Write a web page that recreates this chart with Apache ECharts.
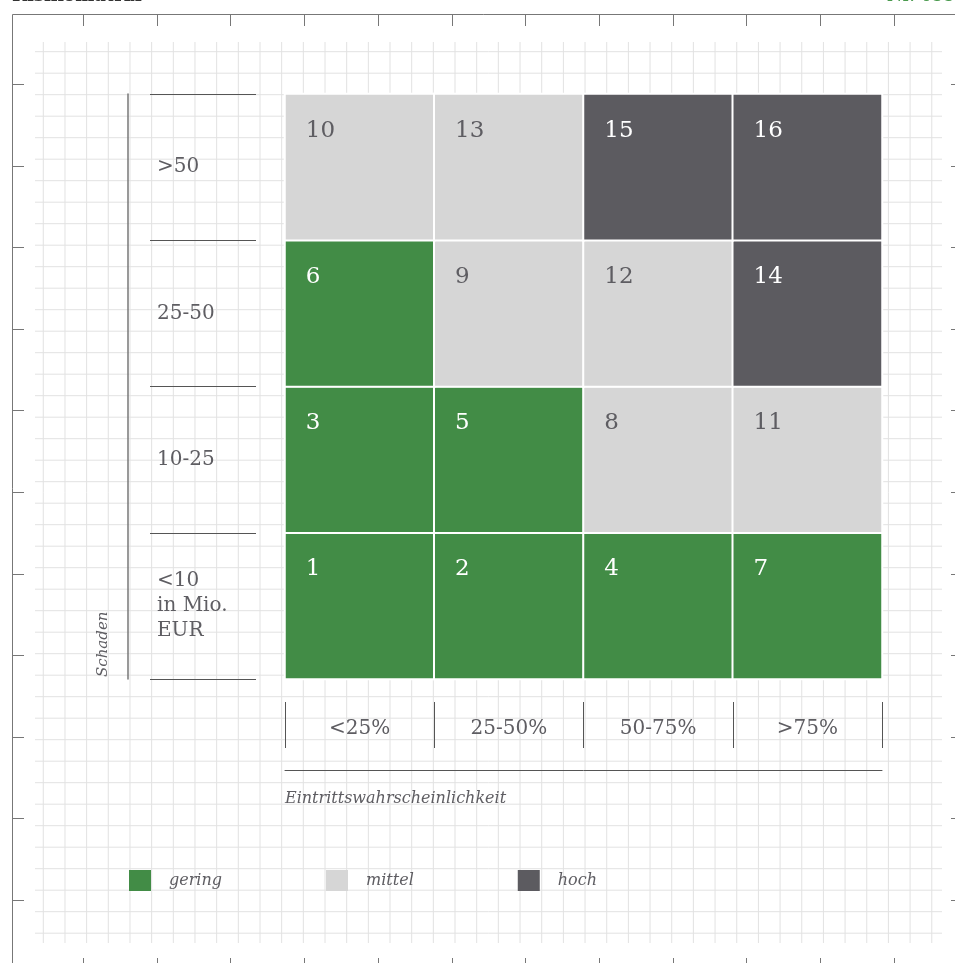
<!DOCTYPE html>
<html>
<head>
<meta charset="utf-8">
<script src="https://cdn.jsdelivr.net/npm/echarts@6/dist/echarts.min.js"></script>
<style>
html, body { margin: 0; padding: 0; background: #fff; }
#chart { width: 955px; height: 963px; }
</style>
</head>
<body>
<div id="chart"></div>
<script>
const probLabels = ['<25%', '25-50%', '50-75%', '>75%'];
const damageLabels = ['<10\nin Mio.\nEUR', '10-25', '25-50', '>50'];
// Zeilen von unten (<10) nach oben (>50)
const cellNumbers = [
  [1, 2, 4, 7],
  [3, 5, 8, 11],
  [6, 9, 12, 14],
  [10, 13, 15, 16]
];
// 0 = gering, 1 = mittel, 2 = hoch
const riskLevels = [
  [0, 0, 0, 0],
  [0, 0, 1, 1],
  [0, 1, 1, 2],
  [1, 1, 2, 2]
];
const levelNames = ['gering', 'mittel', 'hoch'];
const levelColors = ['#428c46', '#d6d6d6', '#5c5b60'];
const xTitle = 'Eintrittswahrscheinlichkeit';
const yTitle = 'Schaden';

const textColor = '#5e5d62';
const serif = 'DejaVu Serif';

const cells = [];
riskLevels.forEach((row, y) => {
  row.forEach((level, x) => {
    cells.push({
      value: [x, y, level, cellNumbers[y][x]],
      label: { color: level === 1 ? textColor : '#fff' }
    });
  });
});

// kariertes Papier + Rahmen mit Strichen
const deco = [];
const gridLine = { stroke: '#e2e2e2', lineWidth: 1 };
for (let i = 0; i <= 41; i++) {
  const x = 43.3 + i * 21.67;
  deco.push({ type: 'line', z: -10, silent: true, shape: { x1: x, y1: 42, x2: x, y2: 943 }, style: gridLine });
  const y = 51.7 + i * 21.5;
  deco.push({ type: 'line', z: -10, silent: true, shape: { x1: 35, y1: y, x2: 942, y2: y }, style: gridLine });
}
const frame = { stroke: '#777', lineWidth: 1 };
deco.push({ type: 'polyline', silent: true, shape: { points: [[12.5, 963], [12.5, 14.5], [955, 14.5]] }, style: { stroke: '#777', lineWidth: 1, fill: null } });
for (let i = 0; i < 12; i++) {
  const x = Math.round(83 + i * 73.7) + 0.5;
  deco.push({ type: 'line', silent: true, shape: { x1: x, y1: 14, x2: x, y2: 26 }, style: frame });
  deco.push({ type: 'line', silent: true, shape: { x1: x, y1: 958, x2: x, y2: 963 }, style: frame });
}
for (let i = 0; i < 11; i++) {
  const y = Math.round(84 + i * 81.6) + 0.5;
  deco.push({ type: 'line', silent: true, shape: { x1: 12, y1: y, x2: 24, y2: y }, style: frame });
  deco.push({ type: 'line', silent: true, shape: { x1: 951, y1: y, x2: 955, y2: y }, style: frame });
}

const texts = [
  { type: 'text', silent: true, x: 103, y: 677, rotation: Math.PI / 2,
    style: { text: yTitle, fontFamily: serif, fontStyle: 'italic', fontSize: 15, fill: textColor, align: 'left', verticalAlign: 'middle' } },
  { type: 'text', silent: true, x: 285, y: 799,
    style: { text: xTitle, fontFamily: serif, fontStyle: 'italic', fontSize: 16, fill: textColor, align: 'left', verticalAlign: 'middle' } },
  { type: 'text', silent: true, x: 12, y: -4,
    style: { text: 'Risikomatrix', fontFamily: serif, fontWeight: 'bold', fontSize: 18, fill: '#333', align: 'left', verticalAlign: 'middle' } },
  { type: 'text', silent: true, x: 955, y: -4,
    style: { text: 'Nr. 055', fontFamily: serif, fontSize: 18, fill: '#4a9a4e', align: 'right', verticalAlign: 'middle' } }
];

const myChart = echarts.init(document.getElementById('chart'));
myChart.setOption({
  backgroundColor: '#fff',
  animation: false,
  grid: [
    { left: 285, right: 73, top: 94, bottom: 284, outerBoundsMode: 'none' },
    { left: 285, right: 73, top: 94, bottom: 284, outerBoundsMode: 'none' }
  ],
  xAxis: [
    {
      type: 'category', gridIndex: 0, data: probLabels, position: 'bottom', offset: 23,
      axisLine: { show: false },
      axisTick: { show: true, length: 46, lineStyle: { color: '#555' } },
      axisLabel: { margin: 27, verticalAlign: 'middle', fontSize: 20, fontFamily: serif, color: textColor },
      splitLine: { show: false }
    },
    {
      type: 'category', gridIndex: 1, data: probLabels, position: 'bottom', offset: 91,
      axisLine: { show: true, lineStyle: { color: '#555' } },
      axisTick: { show: false }, axisLabel: { show: false }, splitLine: { show: false }
    }
  ],
  yAxis: [
    {
      type: 'category', gridIndex: 0, data: damageLabels, position: 'left', offset: 29,
      axisLine: { show: false },
      axisTick: { show: true, length: 106, lineStyle: { color: '#555' } },
      axisLabel: { margin: 99, align: 'left', verticalAlign: 'middle', fontSize: 20, lineHeight: 25, fontFamily: serif, color: textColor },
      splitLine: { show: false }
    },
    {
      type: 'category', gridIndex: 1, data: damageLabels, position: 'left', offset: 157,
      axisLine: { show: true, lineStyle: { color: '#777', width: 1.5 } },
      axisTick: { show: false }, axisLabel: { show: false }, splitLine: { show: false }
    }
  ],
  visualMap: {
    type: 'piecewise', dimension: 2, seriesIndex: 0,
    orient: 'horizontal', left: 129, top: 870, padding: 0,
    itemWidth: 22, itemHeight: 21, itemGap: 104, textGap: 18, itemSymbol: 'rect',
    selectedMode: false,
    pieces: levelNames.map((name, i) => ({ value: i, label: name, color: levelColors[i] })),
    textStyle: { fontFamily: serif, fontStyle: 'italic', fontSize: 16, color: textColor }
  },
  series: [
    {
      type: 'heatmap', xAxisIndex: 0, yAxisIndex: 0, data: cells,
      itemStyle: { borderColor: '#fff', borderWidth: 2 },
      label: {
        show: true, position: [22, 38], align: 'left', verticalAlign: 'middle',
        fontSize: 23, fontFamily: serif,
        formatter: p => p.value[3]
      },
      emphasis: { disabled: true }
    }
  ],
  graphic: { elements: deco.concat(texts) }
});
</script>
</body>
</html>
